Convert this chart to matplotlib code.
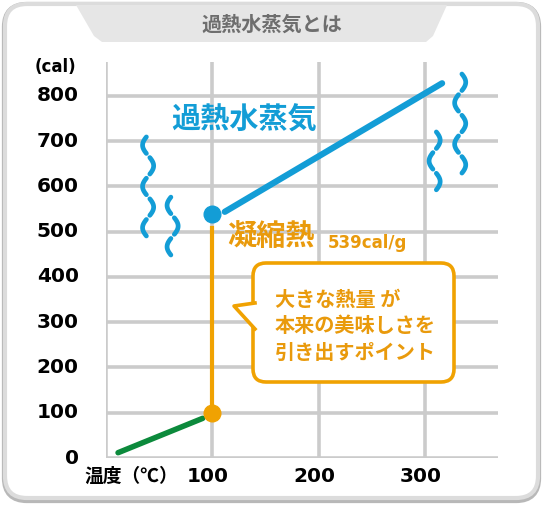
import matplotlib
matplotlib.use("Agg")
import matplotlib.pyplot as plt
from matplotlib.patches import FancyBboxPatch, Polygon
import numpy as np

# --- data ---
y_ticks = [0, 100, 200, 300, 400, 500, 600, 700, 800]
x_ticks = [100, 200, 300]

water_x = [11.8, 91.3]          # green: water heating up
water_y = [11.7, 87.7]
boil_x = [100, 100]             # orange: condensation heat
boil_y = [100, 508]
boil_dot = (100, 100)
steam_dot = (100, 539)
steam_x = [112, 316]            # blue: superheated steam
steam_y = [544, 828]

# wavy steam marks: (center x, top y, bottom y, number of arcs, first bulge)
steam_marks = [
    (40, 714, 486, 5, -1),
    (63, 581, 444, 3, -1),
    (309, 725, 588, 3, 1),
    (333, 853, 625, 5, 1),
]

BLUE = "#139dd6"
ORANGE = "#f0a202"
ORANGE_TXT = "#e99a0c"
GREEN = "#0c8a3c"
GRID = "#cbcbcb"
CJK = ["Noto Sans CJK JP", "DejaVu Sans"]
NUM = ["DejaVu Sans", "Noto Sans CJK JP"]

fig = plt.figure(figsize=(5.43, 5.05), dpi=100)
fig.patch.set_facecolor("white")

# background card + title tab (pixel coordinates)
bg = fig.add_axes([0, 0, 1, 1], zorder=0)
bg.set_xlim(0, 543)
bg.set_ylim(505, 0)
bg.axis("off")
bg.add_patch(FancyBboxPatch((5, 5), 533, 495, boxstyle="round,pad=0,rounding_size=22",
                            fc="none", ec="#b8b8b8", lw=4.5))
bg.add_patch(FancyBboxPatch((5, 4), 533, 494, boxstyle="round,pad=0,rounding_size=22",
                            fc="white", ec="#dcdcdc", lw=3))
bg.add_patch(Polygon([(76, 5), (447, 5), (433, 36), (426, 42), (102, 42), (94, 36)],
                     closed=True, fc="#e6e6e6", ec="none"))
bg.text(272, 24, "過熱水蒸気とは", ha="center", va="center", fontsize=14.5,
        color="#6e6e6e", family=CJK, fontweight="bold")

# chart axes: x=0 at px 105.5, 1.065 px/unit; y=0 at px 458, 0.4525 px/unit
ax = fig.add_axes([105.5 / 543, 47 / 505, 392.5 / 543, 396 / 505], zorder=1)
ax.set_facecolor("none")
ax.set_xlim(0, 368.5)
ax.set_ylim(0, 875)
ax.axis("off")

for v in y_ticks:
    ax.plot([0, 368.5], [v, v], color=GRID, lw=2.6, solid_capstyle="round", zorder=1)
for v in [0] + x_ticks:
    ax.plot([v, v], [0, 875], color=GRID, lw=2.6, solid_capstyle="round", zorder=1)

for v in y_ticks:
    ax.text(-25, v, str(v), ha="right", va="center", fontsize=14.5,
            fontweight="bold", family=NUM, color="black", clip_on=False)
for v in x_ticks:
    ax.text(v - 4, -40, str(v), ha="center", va="center", fontsize=14.5,
            fontweight="bold", family=NUM, color="black", clip_on=False)
ax.text(-27, 863, "(cal)", ha="right", va="center", fontsize=12,
        fontweight="bold", family=NUM, clip_on=False)
ax.text(-20, -40, "温度（℃）", ha="left", va="center", fontsize=13.5,
        fontweight="bold", family=CJK, clip_on=False)

ax.plot(water_x, water_y, color=GREEN, lw=4, solid_capstyle="round", zorder=3)
ax.plot(boil_x, boil_y, color=ORANGE, lw=3, zorder=3)
ax.plot(*boil_dot, "o", color=ORANGE, ms=12, zorder=4)
ax.plot(steam_x, steam_y, color=BLUE, lw=4.5, solid_capstyle="round", zorder=3)
ax.plot(*steam_dot, "o", color=BLUE, ms=12, zorder=4)

for xc, top, bot, n, sign in steam_marks:
    h = (top - bot) / n
    for k in range(n):
        t = np.linspace(0.1, 0.9, 30)
        ys = top - (k + t) * h
        xs = xc + sign * (-1) ** k * 5.2 * np.sin(np.pi * t)
        ax.plot(xs, ys, color=BLUE, lw=3.4, solid_capstyle="round", zorder=3)

ax.text(62, 747, "過熱水蒸気", ha="left", va="center", fontsize=21,
        fontweight="bold", color=BLUE, family=CJK)
ax.text(114, 491, "凝縮熱", ha="left", va="center", fontsize=21,
        fontweight="bold", color=ORANGE_TXT, family=CJK)
ax.text(209, 474, "539cal/g", ha="left", va="center", fontsize=12,
        fontweight="bold", color=ORANGE_TXT, family=NUM)

# callout (pixel coordinates, drawn above the grid)
fg = fig.add_axes([0, 0, 1, 1], zorder=2)
fg.set_facecolor("none")
fg.set_xlim(0, 543)
fg.set_ylim(505, 0)
fg.axis("off")
fg.add_patch(FancyBboxPatch((253, 263), 201, 119, boxstyle="round,pad=0,rounding_size=13",
                            fc="white", ec=ORANGE, lw=2.6))
fg.add_patch(Polygon([(255, 303), (234, 306), (255, 329)], closed=True,
                     fc="white", ec="none"))
fg.plot([255, 234, 255], [303, 306, 329], color=ORANGE, lw=2.6,
        solid_joinstyle="round")
for i, line in enumerate(["大きな熱量 が", "本来の美味しさを", "引き出すポイント"]):
    fg.text(275, 299 + i * 26.5, line, ha="left", va="center", fontsize=14.5,
            fontweight="bold", color=ORANGE_TXT, family=CJK)

fig.savefig("out.png", dpi=100)
